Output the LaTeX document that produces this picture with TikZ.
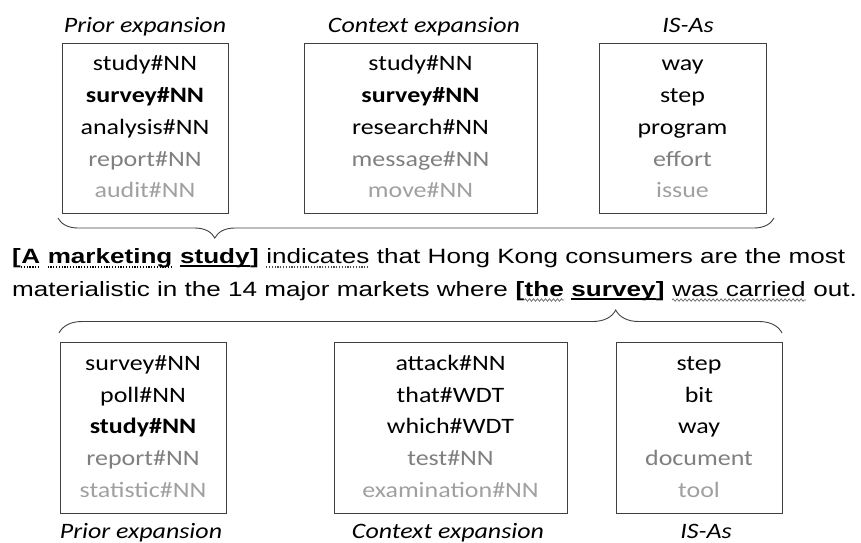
\documentclass[tikz,border=0pt]{standalone}
\usepackage{fontspec}
\setmainfont[FakeStretch=1.26]{Liberation Sans}
\newfontfamily\calf[FakeStretch=1.18]{Carlito}
\usetikzlibrary{calc,decorations.pathreplacing,decorations.pathmorphing}
\definecolor{gA}{HTML}{7F7F7F}
\definecolor{gB}{HTML}{A0A0A0}
\definecolor{frame}{HTML}{404040}
\newcommand\tga[1]{\textcolor{gA}{#1}}
\newcommand\tgb[1]{\textcolor{gB}{#1}}
\def\wsp{7.25pt}
\tikzset{
  listbox/.style={draw=frame, line width=0.9pt, inner sep=0pt, align=center,
    minimum height=170pt, font=\calf\fontsize{22}{31.7}\selectfont},
  lab/.style={font=\calf\fontsize{22}{24}\selectfont\itshape, anchor=base, inner sep=0pt},
  seg/.style={font=\fontsize{20.7}{24}\selectfont, inner sep=0pt, anchor=base west},
  segb/.style={seg, font=\fontsize{20.7}{24}\selectfont\bfseries},
  solidul/.style={line width=2.3pt, black},
  dotul/.style={line width=1.3pt, dash pattern=on 1.3pt off 1.5pt},
  wavyul/.style={black!55, line width=0.8pt, decorate, decoration={zigzag, segment length=4pt, amplitude=1.2pt}},
  bracestyle/.style={draw=frame, line width=0.9pt, decorate},
}
\begin{document}
\begin{tikzpicture}[x=1pt,y=-1pt]
\useasboundingbox (0,0) rectangle (861,542);

% top labels
\node[lab] (tl1) at (145,32) {Prior expansion};
\node[lab] (tl2) at (424,32) {Context expansion};
\node[lab] (tl3) at (688,32) {IS-As};

% top boxes
\node[listbox, minimum width=166pt] (p1) at (145,128)
  {\strut study\#NN\\\textbf{survey\#NN}\\analysis\#NN\\\tga{report\#NN}\\\tgb{audit\#NN}\strut};
\node[listbox, minimum width=233pt] (c1) at (420.5,128)
  {\strut study\#NN\\\textbf{survey\#NN}\\research\#NN\\\tga{message\#NN}\\\tgb{move\#NN}\strut};
\node[listbox, minimum width=167pt] (i1) at (682.5,128)
  {\strut way\\step\\program\\\tga{effort}\\\tgb{issue}\strut};

% top brace
\coordinate (tb1) at (58,218);
\coordinate (tb2) at (774,218);
\draw[bracestyle, decoration={brace, mirror, amplitude=20pt, aspect=0.219}] (tb1) -- (tb2);

% sentence line 1
\node[segb] (l1a) at (12,263) {[};
\node[segb] (l1A) at (l1a.base east) {A};
\node[segb] (l1mk) at ([xshift=\wsp]l1A.base east) {marketing};
\node[segb] (l1st) at ([xshift=\wsp]l1mk.base east) {study};
\node[segb] (l1b) at (l1st.base east) {]};
\node[seg] (l1ind) at ([xshift=\wsp]l1b.base east) {indicates};
\node[seg] (l1rest) at ([xshift=\wsp]l1ind.base east) {that Hong Kong consumers are the most};

\draw[dotul] ([yshift=-4pt]l1A.base west) -- ([yshift=-4pt]l1A.base east);
\draw[dotul] ([yshift=-4pt]l1mk.base west) -- ([yshift=-4pt]l1mk.base east);
\draw[solidul] ([yshift=-3.2pt]l1st.base west) -- ([yshift=-3.2pt]l1st.base east);
\draw[dotul, black!70] ([yshift=-4pt]l1ind.base west) -- ([yshift=-4pt]l1ind.base east);

% sentence line 2
\node[seg] (l2a) at (12,296) {materialistic in the 14 major markets where};
\node[segb] (l2b) at ([xshift=\wsp]l2a.base east) {[};
\node[segb] (l2the) at (l2b.base east) {the};
\node[segb] (l2sv) at ([xshift=\wsp]l2the.base east) {survey};
\node[segb] (l2c) at (l2sv.base east) {]};
\node[seg] (l2was) at ([xshift=\wsp]l2c.base east) {was carried};
\node[seg] (l2out) at ([xshift=\wsp]l2was.base east) {out.};

\draw[wavyul] ([yshift=-4pt]l2the.base west) -- ([yshift=-4pt]l2the.base east);
\draw[solidul] ([yshift=-3.2pt]l2sv.base west) -- ([yshift=-3.2pt]l2sv.base east);
\draw[wavyul] ([yshift=-4pt]l2was.base west) -- ([yshift=-4pt]l2was.base east);

% bottom brace
\coordinate (bb1) at (59,333);
\coordinate (bb2) at (782,333);
\draw[bracestyle, decoration={brace, amplitude=23pt, aspect=0.770}] (bb1) -- (bb2);

% bottom boxes
\node[listbox, minimum width=166pt, minimum height=171pt] (p2) at (143,427.5)
  {\strut survey\#NN\\poll\#NN\\\textbf{study\#NN}\\\tga{report\#NN}\\\tgb{statistic\#NN}\strut};
\node[listbox, minimum width=233pt, minimum height=171pt] (c2) at (450.5,427.5)
  {\strut attack\#NN\\that\#WDT\\which\#WDT\\\tga{test\#NN}\\\tgb{examination\#NN}\strut};
\node[listbox, minimum width=166pt, minimum height=171pt] (i2) at (699,427.5)
  {\strut step\\bit\\way\\\tga{document}\\\tgb{tool}\strut};

% bottom labels
\node[lab] (bl1) at (141,538) {Prior expansion};
\node[lab] (bl2) at (448,538) {Context expansion};
\node[lab] (bl3) at (706,538) {IS-As};
\end{tikzpicture}
\end{document}
